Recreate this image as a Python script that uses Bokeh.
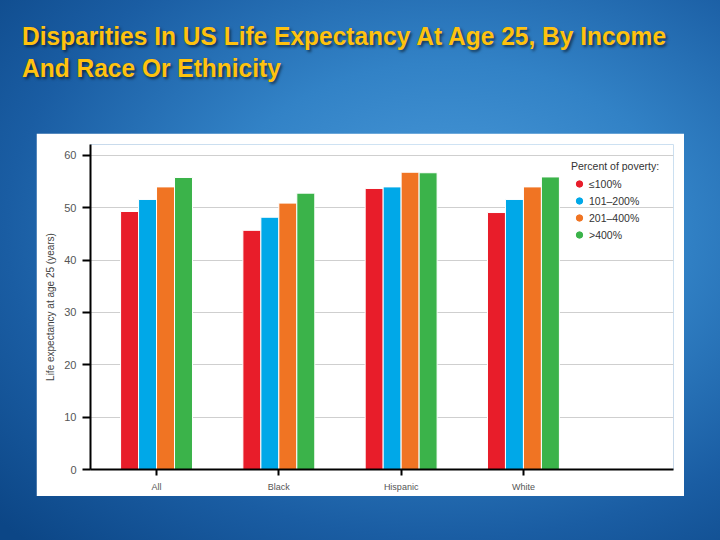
from bokeh.plotting import figure
from bokeh.models import ColumnDataSource, Legend, LegendItem, FixedTicker, Div, Range1d
from bokeh.layouts import column
from bokeh.embed import file_html
from bokeh.resources import INLINE
from bokeh.transform import dodge

# ---- data ----
groups = ["All", "Black", "Hispanic", "White"]
series_labels = ["≤100%", "101–200%", "201–400%", ">400%"]
pov_le100 = [49.3, 45.7, 53.7, 49.1]
pov_101_200 = [51.6, 48.2, 54.0, 51.6]
pov_201_400 = [54.0, 50.9, 56.8, 54.0]
pov_gt400 = [55.8, 52.8, 56.7, 55.9]
y_ticks = [0, 10, 20, 30, 40, 50, 60]

colors = ["#E81D2A", "#00A8E8", "#F07423", "#3BB34A"]
keys = ["le100", "p101_200", "p201_400", "gt400"]

src = ColumnDataSource(data=dict(
    x=list(range(len(groups))),
    le100=pov_le100, p101_200=pov_101_200, p201_400=pov_201_400, gt400=pov_gt400,
))

FONT = "Liberation Sans"

p = figure(width=648, height=363, output_backend="svg", toolbar_location=None,
           x_range=Range1d(-0.54, 4.227), y_range=Range1d(0, 62.1),
           min_border_left=54, min_border_right=11, min_border_top=11, min_border_bottom=27,
           margin=(0, 36, 44, 36))
p.outline_line_color = None
p.background_fill_color = "white"
p.border_fill_color = "white"

pitch = 0.147
offsets = [-1.5 * pitch, -0.5 * pitch, 0.5 * pitch, 1.5 * pitch]
for k, off, c in zip(keys, offsets, colors):
    p.vbar(x=dodge("x", off, range=p.x_range), top=k, width=pitch, bottom=0,
           source=src, fill_color=c, line_color="white", line_width=1)

# grid
p.xgrid.grid_line_color = None
p.ygrid.grid_line_color = "#CFCFCF"
p.ygrid.grid_line_width = 1
p.ygrid.ticker = FixedTicker(ticks=y_ticks)

# y axis
ya = p.yaxis[0]
ya.ticker = FixedTicker(ticks=y_ticks)
ya.axis_line_color = "black"
ya.axis_line_width = 2
ya.major_tick_line_color = "black"
ya.major_tick_line_width = 2
ya.major_tick_out = 8
ya.major_tick_in = 0
ya.minor_tick_line_color = None
ya.major_label_text_font = FONT
ya.major_label_text_font_size = "11px"
ya.major_label_text_color = "#555555"
ya.major_label_standoff = 6
ya.axis_label = "Life expectancy at age 25 (years)"
ya.axis_label_text_font = FONT
ya.axis_label_text_font_size = "10px"
ya.axis_label_text_font_style = "normal"
ya.axis_label_text_color = "#444444"
ya.axis_label_standoff = 5

# x axis
xa = p.xaxis[0]
xa.ticker = FixedTicker(ticks=list(range(len(groups))))
xa.major_label_overrides = {i: g for i, g in enumerate(groups)}
xa.axis_line_color = "black"
xa.axis_line_width = 2
xa.major_tick_line_color = "black"
xa.major_tick_line_width = 2
xa.major_tick_out = 6
xa.major_tick_in = 0
xa.minor_tick_line_color = None
xa.major_label_text_font = FONT
xa.major_label_text_font_size = "9px"
xa.major_label_text_color = "#555555"
xa.major_label_standoff = 6

# legend with round markers (legend-only renderers, nothing drawn in the plot)
nan = float("nan")
items = []
for lab, c in zip(series_labels, colors):
    r = p.scatter(x=[nan], y=[nan], marker="circle", fill_color=c, line_color=c)
    items.append(LegendItem(label=lab, renderers=[r]))
legend = Legend(items=items, location=(481, 226), title="Percent of poverty:",
                title_text_font=FONT, title_text_font_size="10.5px", title_text_color="#333333",
                title_text_font_style="normal", title_standoff=3,
                label_text_font=FONT, label_text_font_size="10.5px", label_text_color="#333333",
                glyph_width=16, glyph_height=17, label_height=17, label_standoff=2, spacing=0,
                padding=4, margin=0, background_fill_alpha=0, border_line_color=None)
p.add_layout(legend, "center")

title_html = ('<div style="font-family:\'Liberation Sans Narrow\',\'Liberation Sans\',sans-serif;'
              'font-weight:bold;font-size:26px;line-height:32px;color:#FFC20E;'
              'text-shadow:2px 2px 3px rgba(0,0,0,0.55);padding:20px 0 0 22px;white-space:nowrap;">'
              '<div style="display:inline-block;transform:scaleX(0.943);transform-origin:left top;">'
              'Disparities In US Life Expectancy At Age 25, By Income<br>And Race Or Ethnicity</div></div>')
title = Div(text=title_html, width=720, height=133, margin=0)

layout = column(title, p, width=720, height=540, spacing=0,
                styles={"background": "radial-gradient(ellipse 85% 80% at 62% 42%, #4C9CDB 0%, #3282C6 38%, #1A5DA3 72%, #0C4686 100%)"})

open("out.html", "w").write(file_html(layout, INLINE))
